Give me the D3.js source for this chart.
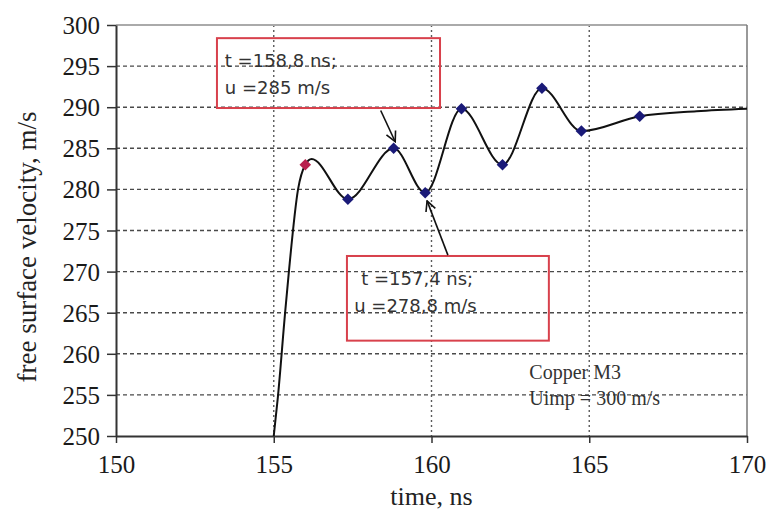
<!DOCTYPE html>
<html>
<head>
<meta charset="utf-8">
<script src="https://cdn.jsdelivr.net/npm/d3@7"></script>
<style>
  body { margin: 0; background: #fff; }
  svg { display: block; }
</style>
</head>
<body>
<div id="chart"></div>
<script>
// data
var curveTime = [155.0, 155.13, 155.36, 155.48, 155.77, 156.0, 156.2, 157.35, 158.8, 159.8, 160.95, 162.25, 163.5, 164.75, 166.6, 168.4, 170];
var curveVel = [250, 254.7, 265, 270, 280, 283.0, 283.7, 278.8, 285.0, 279.6, 289.8, 283.0, 292.3, 287.1, 288.9, 289.5, 289.8];

var markTime = [156.0, 157.35, 158.8, 159.8, 160.95, 162.25, 163.5, 164.75, 166.6];
var markVel = [283.0, 278.8, 285.0, 279.6, 289.8, 283.0, 292.3, 287.1, 288.9];

var xTicks = [150, 155, 160, 165, 170];
var yTicks = [250, 255, 260, 265, 270, 275, 280, 285, 290, 295, 300];

var boxTexts = [
    ["t =158,8 ns;", "u =285 m/s"],
    ["t =157,4 ns;", "u =278,8 m/s"]
];
var noteLines = ["Copper M3", "Uimp = 300 m/s"];

// STEP 1: dimensions
var svgWidth = 770;
var svgHeight = 511;
var margin = { top: 25, right: 23, bottom: 75, left: 116 };
var width = svgWidth - margin.left - margin.right;
var height = svgHeight - margin.top - margin.bottom;

var svg = d3.select("#chart")
    .append("svg")
    .attr("width", svgWidth)
    .attr("height", svgHeight);

var chartGroup = svg.append("g")
    .attr("transform", `translate(${margin.left}, ${margin.top})`);

// STEP 2: scales
var xScale = d3.scaleLinear().domain([150, 170]).range([0, width]);
var yScale = d3.scaleLinear().domain([250, 300]).range([height, 0]);

// STEP 3: grid lines
chartGroup.append("g")
    .selectAll("line")
    .data(yTicks.slice(1, -1))
    .enter()
    .append("line")
    .attr("x1", 0)
    .attr("x2", width)
    .attr("y1", d => yScale(d))
    .attr("y2", d => yScale(d))
    .attr("stroke", "#4a4a4a")
    .attr("stroke-width", 1.4)
    .attr("stroke-dasharray", "4,3");

chartGroup.append("g")
    .selectAll("line")
    .data(xTicks.slice(1, -1))
    .enter()
    .append("line")
    .attr("x1", d => xScale(d))
    .attr("x2", d => xScale(d))
    .attr("y1", 0)
    .attr("y2", height)
    .attr("stroke", "#5a5a5a")
    .attr("stroke-width", 1.4)
    .attr("stroke-dasharray", "2,3");

// frame: light top, grey right
chartGroup.append("line")
    .attr("x1", 0).attr("x2", width)
    .attr("y1", 0).attr("y2", 0)
    .attr("stroke", "#aaa")
    .attr("stroke-width", 2);
chartGroup.append("line")
    .attr("x1", width).attr("x2", width)
    .attr("y1", 0).attr("y2", height)
    .attr("stroke", "#777")
    .attr("stroke-width", 1.5);

// STEP 4: axes
var xAxis = d3.axisBottom(xScale).tickValues(xTicks).tickSize(7).tickPadding(12).tickSizeOuter(0);
var yAxis = d3.axisLeft(yScale).tickValues(yTicks).tickSize(9).tickPadding(7).tickSizeOuter(0);

var gx = chartGroup.append("g")
    .attr("transform", `translate(0, ${height})`)
    .call(xAxis);
var gy = chartGroup.append("g")
    .call(yAxis);

[gx, gy].forEach(function(g) {
    g.select(".domain").attr("stroke", "#333").attr("stroke-width", 2);
    g.selectAll(".tick line").attr("stroke", "#333").attr("stroke-width", 1.5);
    g.selectAll(".tick text")
        .attr("fill", "#1a1a1a")
        .attr("font-family", "'Liberation Serif', 'Times New Roman', serif")
        .attr("font-size", "25px");
});
gy.selectAll(".tick text").attr("dy", "0.34em");

// STEP 5: curve and markers
var curveData = curveTime.map((t, i) => ({ t: t, u: curveVel[i] }));
var markData = markTime.map((t, i) => ({ t: t, u: markVel[i], first: i === 0 }));

var line = d3.line()
    .x(d => xScale(d.t))
    .y(d => yScale(d.u))
    .curve(d3.curveMonotoneX);

chartGroup.append("path")
    .datum(curveData)
    .attr("d", line)
    .attr("fill", "none")
    .attr("stroke", "#111")
    .attr("stroke-width", 2);

chartGroup.append("g")
    .selectAll("path")
    .data(markData)
    .enter()
    .append("path")
    .attr("d", d3.symbol().type(d3.symbolDiamond2).size(85))
    .attr("transform", d => `translate(${xScale(d.t)}, ${yScale(d.u)})`)
    .attr("fill", d => d.first ? "#b8214e" : "#1a1a78");

// STEP 6: annotation boxes with arrows
var boxes = [
    { t0: 153.2, t1: 160.27, u0: 298.4, u1: 289.9, lines: boxTexts[0], tx: 153.45, dx: 0 },
    { t0: 157.32, t1: 163.72, u0: 271.9, u1: 261.6, lines: boxTexts[1], tx: 157.55, dx: 7 }
];

boxes.forEach(function(b) {
    chartGroup.append("rect")
        .attr("x", xScale(b.t0))
        .attr("y", yScale(b.u0))
        .attr("width", xScale(b.t1) - xScale(b.t0))
        .attr("height", yScale(b.u1) - yScale(b.u0))
        .attr("fill", "none")
        .attr("stroke", "#d8414c")
        .attr("stroke-width", 2);

    chartGroup.append("g")
        .selectAll("text")
        .data(b.lines)
        .enter()
        .append("text")
        .attr("x", (d, i) => xScale(b.tx) + (i === 0 ? b.dx : 0))
        .attr("y", (d, i) => yScale(b.u0) + 29 + i * 27)
        .attr("font-family", "'DejaVu Sans', sans-serif")
        .attr("font-size", "18px")
        .attr("fill", "#333")
        .text(d => d);
});

svg.append("defs")
    .append("marker")
    .attr("id", "arrow")
    .attr("viewBox", "0 0 12 12")
    .attr("refX", 11)
    .attr("refY", 6)
    .attr("markerWidth", 12)
    .attr("markerHeight", 12)
    .attr("markerUnits", "userSpaceOnUse")
    .attr("orient", "auto")
    .append("path")
    .attr("d", "M1,1 L11,6 L1,11")
    .attr("fill", "none")
    .attr("stroke", "#111")
    .attr("stroke-width", 1.6);

var arrows = [
    { t0: 158.39, u0: 289.6, t1: 158.85, u1: 285.8 },
    { t0: 160.52, u0: 272.0, t1: 159.86, u1: 278.6 }
];

chartGroup.append("g")
    .selectAll("line")
    .data(arrows)
    .enter()
    .append("line")
    .attr("x1", d => xScale(d.t0))
    .attr("y1", d => yScale(d.u0))
    .attr("x2", d => xScale(d.t1))
    .attr("y2", d => yScale(d.u1))
    .attr("stroke", "#111")
    .attr("stroke-width", 1.6)
    .attr("marker-end", "url(#arrow)");

// STEP 7: note text
chartGroup.append("g")
    .selectAll("text")
    .data(noteLines)
    .enter()
    .append("text")
    .attr("x", xScale(163.1))
    .attr("y", (d, i) => yScale(256.9) + i * 26)
    .attr("font-family", "'Liberation Serif', 'Times New Roman', serif")
    .attr("font-size", "20px")
    .attr("fill", "#333")
    .text(d => d);

// STEP 8: axis labels
chartGroup.append("text")
    .attr("transform", "rotate(-90)")
    .attr("x", -(247 - margin.top))
    .attr("y", 36 - margin.left)
    .attr("text-anchor", "middle")
    .attr("font-family", "'Liberation Serif', 'Times New Roman', serif")
    .attr("font-size", "27px")
    .attr("fill", "#222")
    .text("free surface velocity, m/s");

chartGroup.append("text")
    .attr("x", width / 2)
    .attr("y", height + 69)
    .attr("text-anchor", "middle")
    .attr("font-family", "'Liberation Serif', 'Times New Roman', serif")
    .attr("font-size", "26px")
    .attr("fill", "#222")
    .text("time, ns");
</script>
</body>
</html>
